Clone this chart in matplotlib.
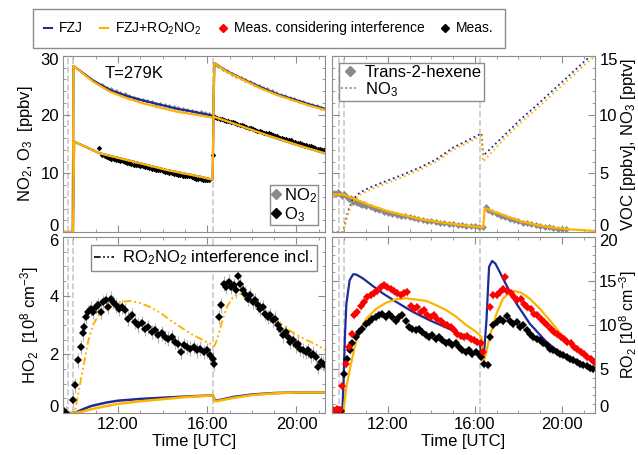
import matplotlib
matplotlib.use('Agg')
import matplotlib.pyplot as plt
from matplotlib.ticker import MultipleLocator, FuncFormatter
from matplotlib.lines import Line2D

plt.rcParams['font.family'] = ['Liberation Sans', 'DejaVu Sans']
plt.rcParams['mathtext.fontset'] = 'custom'
plt.rcParams['mathtext.rm'] = 'Liberation Sans'
plt.rcParams['mathtext.it'] = 'Liberation Sans'
plt.rcParams['mathtext.default'] = 'regular'
plt.rcParams['font.size'] = 12

BLUE = '#1c2c96'
ORANGE = '#ffb300'
FRAME = '#8c8c8c'
GREY = '#8a8a8a'

# injection / dilution times (hours UTC)
events = [9.75, 9.96, 16.25]

# ---- NO2 / O3 (ppbv) ----
no2_fzj_t = [9.5, 9.97, 10.0, 10.89, 11.64, 12.39, 13.14, 13.89, 14.64, 15.39, 16.14, 16.27,
             16.32, 16.88, 17.63, 18.38, 19.13, 19.88, 20.63, 21.38]
no2_fzj = [0, 0, 28.3, 25.8, 24.2, 23.2, 22.4, 21.7, 21.0, 20.5, 19.9, 19.8,
           28.8, 27.4, 26.0, 24.7, 23.5, 22.6, 21.7, 20.9]
no2_ro2 = [0, 0, 28.3, 25.6, 23.9, 22.8, 21.9, 21.2, 20.5, 20.05, 19.55, 19.5,
           28.8, 27.3, 25.9, 24.5, 23.35, 22.4, 21.5, 20.7]
o3_mod_t = [9.5, 9.98, 10.03, 11.19, 12.69, 14.19, 15.69, 16.17, 16.24,
            16.28, 17.18, 18.68, 20.18, 21.38]
o3_mod = [0, 0, 15.4, 13.4, 12.0, 10.57, 9.43, 8.98, 8.95,
          19.65, 18.5, 16.5, 14.66, 13.3]

no2_meas_t = [11.3, 11.5, 11.7, 11.9, 12.1, 12.3, 12.5, 12.7, 12.9, 13.1, 13.3, 13.5, 13.7, 13.9,
              14.1, 14.3, 14.5, 14.7, 14.9, 15.1, 15.3, 15.5, 15.7, 15.9, 16.1,
              16.35, 16.5, 16.7, 16.9, 17.1, 17.3, 17.5, 17.7, 17.9, 18.1, 18.3, 18.5, 18.7,
              18.9, 19.1, 19.3, 19.5, 19.7, 19.9, 20.1, 20.3, 20.5, 20.7, 20.9, 21.1, 21.3]
no2_meas = [25.0, 24.6, 24.3, 24.0, 23.7, 23.5, 23.2, 22.9, 22.7, 22.5, 22.3, 22.1, 21.9, 21.8,
            21.6, 21.4, 21.3, 21.1, 21.0, 20.8, 20.7, 20.5, 20.4, 20.2, 20.1,
            28.6, 28.3, 27.8, 27.4, 27.0, 26.6, 26.3, 25.9, 25.6, 25.2, 24.9, 24.6, 24.3,
            24.0, 23.7, 23.4, 23.1, 22.9, 22.6, 22.4, 22.1, 21.9, 21.6, 21.4, 21.2, 21.0]
o3_meas_t = [11.15, 11.3, 11.4, 11.5, 11.6, 11.7, 11.8, 11.9, 12.0, 12.1, 12.2, 12.3, 12.4, 12.5,
             12.6, 12.7, 12.8, 12.9, 13.0, 13.1, 13.2, 13.3, 13.4, 13.5, 13.6, 13.7, 13.8,
             13.9, 14.0, 14.1, 14.2, 14.3, 14.4, 14.5, 14.6, 14.7, 14.8, 14.9, 15.0, 15.1,
             15.2, 15.3, 15.4, 15.5, 15.6, 15.7, 15.8, 15.9, 16.0, 16.1,
             16.25, 16.35, 16.45, 16.55, 16.65, 16.75, 16.85, 16.95, 17.05, 17.15, 17.25, 17.35,
             17.45, 17.55, 17.65, 17.75, 17.85, 17.95, 18.05, 18.15, 18.25, 18.35, 18.45, 18.55,
             18.65, 18.75, 18.85, 18.95, 19.05, 19.15, 19.25, 19.35, 19.45, 19.55, 19.65, 19.75,
             19.85, 19.95, 20.05, 20.15, 20.25, 20.35, 20.45, 20.55, 20.65, 20.75, 20.85, 20.95,
             21.05, 21.15, 21.25]
o3_meas = [14.4, 13.1, 13.0, 12.8, 12.6, 12.5, 12.4, 12.3, 12.2, 12.1, 12.1, 12.0, 11.8, 11.8,
           11.6, 11.5, 11.5, 11.4, 11.3, 11.2, 11.1, 11.0, 10.9, 10.8, 10.7, 10.6, 10.6,
           10.5, 10.4, 10.3, 10.2, 10.1, 10.0, 9.9, 9.9, 9.8, 9.7, 9.6, 9.6, 9.5,
           9.5, 9.4, 9.2, 9.1, 9.1, 9.0, 8.9, 8.9, 8.8, 8.8,
           13.1, 19.6, 19.5, 19.3, 19.2, 19.1, 19.0, 18.9, 18.8, 18.7, 18.5, 18.4,
           18.3, 18.2, 18.0, 17.9, 17.8, 17.7, 17.5, 17.4, 17.3, 17.2, 17.0, 16.9,
           16.9, 16.8, 16.7, 16.6, 16.4, 16.3, 16.1, 16.0, 15.9, 15.8, 15.7, 15.6,
           15.4, 15.3, 15.2, 15.1, 15.0, 14.9, 14.8, 14.7, 14.6, 14.5, 14.3, 14.2,
           14.1, 14.0, 13.9]

# ---- trans-2-hexene (ppbv) and NO3 (pptv) ----
hex_mod_t = [9.43, 9.94, 10.4, 11.17, 11.93, 12.7, 13.47, 14.23, 15.0, 15.77, 16.38,
             16.45, 17.3, 18.07, 18.84, 19.6, 20.37, 21.55]
hex_mod = [3.2, 3.2, 2.87, 2.3, 1.82, 1.45, 1.11, 0.88, 0.68, 0.51, 0.4,
           2.02, 1.45, 0.94, 0.6, 0.37, 0.23, 0.09]
hex_meas_t = [9.5, 9.6, 9.7, 9.8, 9.9, 10.0, 10.1, 10.2, 10.3, 10.4, 10.5, 10.6, 10.7, 10.8,
              10.9, 11.0, 11.2, 11.4, 11.6, 11.8, 12.0, 12.2, 12.4, 12.6, 12.8, 13.0, 13.2,
              13.4, 13.6, 13.8, 14.0, 14.2, 14.4, 14.6, 14.8, 15.0, 15.2, 15.4, 15.6, 15.8,
              16.0, 16.2, 16.35,
              16.5, 16.6, 16.8, 17.0, 17.2, 17.4, 17.6, 17.8, 18.0, 18.2, 18.4, 18.6, 18.8,
              19.0, 19.2, 19.4, 19.6, 19.8, 20.0, 20.2]
hex_meas = [3.3, 3.2, 3.4, 3.2, 3.1, 3.2, 3.0, 2.8, 2.9, 2.6, 2.7, 2.5, 2.4, 2.3,
            2.35, 2.2, 2.1, 2.0, 1.9, 1.75, 1.65, 1.55, 1.45, 1.4, 1.35, 1.25, 1.2,
            1.1, 1.05, 0.95, 0.9, 0.85, 0.8, 0.75, 0.7, 0.65, 0.6, 0.6, 0.55, 0.5,
            0.5, 0.45, 0.4,
            2.1, 1.9, 1.7, 1.55, 1.4, 1.3, 1.15, 1.0, 0.9, 0.8, 0.75, 0.65, 0.6,
            0.5, 0.45, 0.4, 0.35, 0.3, 0.3, 0.25]
no3_t = [9.43, 9.94, 10.17, 10.4, 10.7, 11.17, 11.93, 12.7, 13.47, 14.23, 15.0, 15.77, 16.3,
         16.38, 17.3, 18.07, 18.84, 19.6, 20.37, 21.13, 21.55]
no3_fzj = [0, 0, 1.8, 2.8, 3.35, 3.8, 4.35, 4.9, 5.5, 6.2, 7.2, 7.9, 8.4,
           6.5, 8.15, 9.55, 10.8, 12.1, 13.4, 14.7, 15.3]
no3_ro2 = [0, 0, 1.6, 2.6, 3.15, 3.6, 4.15, 4.7, 5.3, 6.0, 7.0, 7.7, 8.2,
           6.0, 7.85, 9.27, 10.5, 11.8, 13.1, 14.4, 15.0]

# ---- HO2 (1e8 cm-3) ----
ho2_t = [9.53, 9.65, 9.96, 10.07, 10.22, 10.32, 10.41, 10.47, 10.56, 10.67, 10.77, 10.89, 11.01,
         11.12, 11.22, 11.34, 11.46, 11.57, 11.67, 11.79, 11.91, 12.03, 12.17, 12.32, 12.46,
         12.61, 12.76, 12.91, 13.06, 13.21, 13.36, 13.51, 13.66, 13.81, 13.96, 14.11, 14.26,
         14.41, 14.56, 14.71, 14.82, 14.94, 15.09, 15.24, 15.39, 15.54, 15.69, 15.84, 15.98,
         16.13, 16.28, 16.31, 16.51, 16.63, 16.73, 16.85, 16.96, 17.06, 17.18, 17.29, 17.38,
         17.48, 17.6, 17.71, 17.81, 17.93, 18.05, 18.16, 18.28, 18.38, 18.5, 18.61, 18.71,
         18.83, 18.95, 19.06, 19.16, 19.28, 19.4, 19.51, 19.63, 19.73, 19.85, 19.96, 20.08,
         20.18, 20.3, 20.41, 20.53, 20.63, 20.75, 20.86, 20.96, 21.08, 21.2, 21.3]
ho2_meas = [0.1, 0.0, 0.45, 0.94, 1.8, 2.25, 2.71, 2.93, 3.27, 3.44, 3.56, 3.44, 3.61,
            3.67, 3.44, 3.78, 3.84, 3.61, 3.9, 3.78, 3.67, 3.56, 3.61, 3.5, 3.22,
            3.33, 3.1, 2.99, 3.05, 2.87, 2.93, 2.76, 2.82, 2.65, 2.71, 2.59, 2.53,
            2.59, 2.42, 2.36, 2.08, 2.31, 2.25, 2.19, 2.25, 2.14, 2.19, 2.08, 2.14,
            1.97, 1.85, 1.68, 3.27, 3.67, 4.41, 4.3, 4.47, 4.3, 4.36, 4.18, 4.66,
            4.41, 4.18, 4.07, 3.9, 4.01, 3.78, 3.84, 3.67, 3.56, 3.61, 3.39, 3.27,
            3.33, 3.16, 3.22, 2.99, 2.87, 2.65, 2.76, 2.59, 2.42, 2.48, 2.31, 2.36,
            2.19, 2.14, 2.08, 2.14, 1.97, 2.02, 1.91, 1.57, 1.74, 1.68, 1.62]
ho2_err = 0.25
ho2_int_t = [9.5, 10.05, 10.25, 10.44, 10.67, 10.89, 11.19, 11.64, 12.09, 12.54, 12.99, 13.44,
             13.9, 14.35, 14.8, 15.24, 15.69, 16.14, 16.31, 16.43, 16.66, 16.88, 17.11, 17.33,
             17.56, 17.78, 18.23, 18.68, 19.13, 19.58, 20.03, 20.48, 20.93, 21.38]
ho2_int = [0, 0, 0.8, 1.57, 2.48, 3.02, 3.41, 3.67, 3.78, 3.82, 3.75, 3.61,
           3.41, 3.16, 2.93, 2.71, 2.53, 2.36, 2.27, 2.48, 3.1, 3.61, 3.9, 4.05,
           4.05, 3.98, 3.73, 3.44, 3.16, 2.87, 2.65, 2.48, 2.31, 2.12]
ho2_mod_t = [9.5, 10.05, 10.4, 10.8, 11.5, 12.0, 13.0, 14.0, 15.0, 16.25, 16.35, 16.6, 17.2,
             18.0, 19.0, 20.0, 21.38]
ho2_fzj = [0, 0, 0.12, 0.24, 0.36, 0.42, 0.48, 0.52, 0.56, 0.6, 0.42, 0.45, 0.55,
           0.63, 0.68, 0.7, 0.7]
ho2_ro2 = [0, 0, 0.05, 0.13, 0.24, 0.31, 0.4, 0.47, 0.54, 0.6, 0.4, 0.43, 0.52,
           0.61, 0.67, 0.7, 0.7]

# ---- RO2 (1e8 cm-3) ----
ro2_fzj_t = [9.43, 9.9, 9.96, 10.02, 10.09, 10.24, 10.4, 10.55, 10.86, 11.32, 11.78, 12.39,
             13.15, 13.92, 14.69, 15.45, 16.22, 16.3, 16.4, 16.53, 16.65, 16.79, 16.94, 17.14,
             17.45, 17.91, 18.52, 19.29, 20.06, 20.82, 21.55]
ro2_fzj = [0, 0, 3.5, 8.5, 12.4, 15.08, 15.76, 15.72, 15.27, 14.4, 13.56, 12.61,
           11.48, 10.53, 9.7, 8.83, 7.8, 6.93, 6.17, 10.53, 16.6, 17.27, 16.97, 16.02,
           14.5, 12.42, 10.15, 8.07, 6.55, 5.61, 4.9]
ro2_int_t = [9.43, 9.95, 10.09, 10.24, 10.47, 10.7, 11.01, 11.47, 11.93, 12.39, 12.85, 13.31,
             13.77, 14.23, 14.69, 15.15, 15.61, 16.07, 16.3, 16.38, 16.45, 16.68, 16.99, 17.29,
             17.6, 17.83, 18.14, 18.52, 18.98, 19.44, 20.06, 20.67, 21.28, 21.55]
ro2_int = [0, 0, 2.95, 4.85, 7.5, 9.39, 10.72, 11.86, 12.54, 12.92, 13.03, 12.88,
           12.73, 12.23, 11.67, 10.91, 9.96, 9.2, 8.64, 5.98, 6.17, 8.64, 11.29, 12.99,
           13.75, 13.86, 13.64, 12.99, 11.86, 10.53, 8.64, 7.31, 6.36, 5.8]
ro2_red_t = [9.48, 9.58, 9.68, 9.78, 9.9, 10.06, 10.21, 10.36, 10.44, 10.59, 10.75, 10.9, 11.05,
             11.21, 11.36, 11.51, 11.67, 11.82, 11.97, 12.13, 12.28, 12.43, 12.59, 12.74, 12.89,
             13.05, 13.2, 13.35, 13.51, 13.66, 13.81, 13.97, 14.12, 14.27, 14.43, 14.58, 14.73,
             14.89, 15.04, 15.19, 15.35, 15.5, 15.65, 15.81, 15.96, 16.11, 16.27, 16.39,
             16.7, 16.85, 17.0, 17.15, 17.31, 17.37, 17.49, 17.64, 17.8, 17.95, 18.1, 18.26,
             18.41, 18.56, 18.72, 18.87, 19.02, 19.18, 19.33, 19.48, 19.64, 19.79, 19.94, 20.1,
             20.25, 20.4, 20.55, 20.71, 20.86, 21.01, 21.17, 21.32, 21.47]
ro2_red = [0.3, 0.2, 0.4, 0.3, 3.1, 5.6, 7.5, 9.0, 11.1, 11.5, 12.2, 12.6, 13.2,
           13.4, 13.6, 13.9, 14.3, 14.5, 14.3, 14.1, 13.9, 13.6, 13.4, 13.6, 13.75,
           12.2, 11.86, 12.0, 11.48, 11.67, 11.1, 10.9, 11.1, 10.7, 10.5, 10.15, 9.96,
           9.8, 9.4, 9.0, 8.8, 8.64, 8.8, 8.4, 8.26, 8.07, 7.9, 6.9,
           12.0, 13.4, 13.4, 13.75, 14.1, 15.45, 13.9, 13.6, 13.2, 12.8, 13.0, 12.4,
           12.0, 11.86, 11.3, 11.1, 10.7, 10.34, 9.96, 9.58, 9.2, 9.0, 8.64, 8.45,
           8.07, 7.9, 7.5, 7.3, 6.93, 6.74, 6.36, 6.17, 5.8]
ro2_blk_t = [9.5, 9.62, 9.74, 9.86, 9.98, 10.13, 10.25, 10.36, 10.52, 10.67, 10.82, 10.98, 11.13,
             11.28, 11.44, 11.59, 11.74, 11.9, 12.05, 12.2, 12.36, 12.51, 12.66, 12.82, 12.97,
             13.12, 13.28, 13.43, 13.58, 13.74, 13.89, 14.04, 14.2, 14.35, 14.5, 14.66, 14.81,
             14.96, 15.12, 15.27, 15.42, 15.58, 15.73, 15.88, 16.04, 16.19, 16.3, 16.42, 16.58,
             16.7, 16.85, 17.0, 17.15, 17.31, 17.46, 17.61, 17.77, 17.92, 18.07, 18.23, 18.38,
             18.54, 18.69, 18.84, 19.0, 19.15, 19.3, 19.46, 19.61, 19.76, 19.92, 20.07, 20.22,
             20.38, 20.53, 20.68, 20.84, 20.99, 21.14, 21.3, 21.45]
ro2_blk = [0.2, 0.1, 0.3, 0.2, 4.47, 6.17, 7.1, 7.9, 8.64, 9.2, 9.58, 10.15, 10.34,
           10.7, 10.9, 11.1, 11.2, 10.9, 11.3, 10.9, 10.5, 10.9, 11.1, 10.5, 9.77,
           9.58, 9.39, 9.58, 9.2, 8.83, 8.64, 8.83, 8.45, 8.64, 8.26, 7.9, 8.07,
           7.7, 7.9, 7.5, 7.1, 6.93, 7.1, 6.74, 6.93, 6.74, 6.36, 5.6, 5.5,
           8.64, 9.96, 10.34, 10.7, 10.5, 10.98, 10.5, 10.15, 10.34, 9.77, 9.96, 9.39,
           9.0, 8.64, 8.45, 8.26, 7.9, 7.7, 7.3, 7.1, 6.93, 6.74, 6.55, 6.36,
           6.17, 5.98, 5.8, 5.6, 5.5, 5.34, 5.15, 5.04]
ro2_err = 0.45

fig = plt.figure(figsize=(6.38, 4.55), dpi=100)
ax1 = fig.add_axes([0.0987, 0.490, 0.4107, 0.387])
ax2 = fig.add_axes([0.5204, 0.490, 0.4122, 0.387])
ax3 = fig.add_axes([0.0987, 0.0923, 0.4107, 0.387])
ax4 = fig.add_axes([0.5204, 0.0923, 0.4122, 0.387])


def style(ax, xlim, ylim, ymaj, ymin, right=False, xlab=False):
    lo, hi = ylim
    ax.set_xlim(xlim)
    ax.set_ylim(ylim)
    ax.xaxis.set_major_locator(MultipleLocator(4))
    ax.xaxis.set_minor_locator(MultipleLocator(1))
    ax.yaxis.set_major_locator(MultipleLocator(ymaj))
    ax.yaxis.set_minor_locator(MultipleLocator(ymin))
    ax.xaxis.set_major_formatter(FuncFormatter(lambda v, p: '%02d:00' % int(round(v))))
    # end labels are drawn separately, nudged inwards
    ax.yaxis.set_major_formatter(FuncFormatter(
        lambda v, p: '' if abs(v - lo) < 1e-9 or abs(v - hi) < 1e-9 else '%g' % v))
    ax.tick_params(which='both', direction='in', top=True, right=True, left=True,
                   color=FRAME, labelsize=12, pad=3)
    ax.tick_params(which='major', length=5)
    ax.tick_params(which='minor', length=2.5)
    ax.tick_params(axis='x', labelbottom=xlab)
    xs, dx, ha = 0, -3.2, 'right'
    if right:
        ax.yaxis.set_label_position('right')
        ax.tick_params(axis='y', labelleft=False, labelright=True)
        xs, dx, ha = 1, 3.2, 'left'
    for val, dy in ((lo, 3.8), (hi, -3.0)):
        ax.annotate('%g' % val, xy=(xs, val), xycoords=('axes fraction', 'data'),
                    xytext=(dx, dy), textcoords='offset points', ha=ha, va='center',
                    fontsize=12, annotation_clip=False)
    for s in ax.spines.values():
        s.set_color(FRAME)
    for e in events:
        ax.axvline(e, color='#c8c8c8', ls='--', lw=1.2, zorder=0)
    if xlab:
        ax.set_xlabel('Time [UTC]', fontsize=12, labelpad=1)


# NO2 / O3
style(ax1, (9.53, 21.28), (0, 30), 10, 2)
ax1.plot(no2_meas_t, no2_meas, 'D', color=GREY, ms=2.5, mew=0)
ax1.plot(no2_fzj_t, no2_fzj, color=BLUE, lw=1.6)
ax1.plot(no2_fzj_t, no2_ro2, color=ORANGE, lw=1.6)
ax1.plot(o3_meas_t, o3_meas, 'D', color='k', ms=2.8, mew=0)
ax1.plot(o3_mod_t, o3_mod, color=BLUE, lw=1.6)
ax1.plot(o3_mod_t, o3_mod, color=ORANGE, lw=1.6)
ax1.text(0.16, 0.9, 'T=279K', transform=ax1.transAxes, fontsize=12, va='center')
ax1.set_ylabel('NO$_2$, O$_3$  [ppbv]', fontsize=12, labelpad=4)
h_no2 = Line2D([], [], ls='none', marker='D', color=GREY, ms=5)
h_o3 = Line2D([], [], ls='none', marker='D', color='k', ms=5)
lg = ax1.legend([h_no2, h_o3], ['NO$_2$', 'O$_3$'], loc='lower right', fontsize=12,
                handlelength=0.5, handletextpad=0.2, borderpad=0.1, labelspacing=0.0,
                borderaxespad=0.4, fancybox=False, edgecolor=FRAME, framealpha=1)
lg.get_frame().set_linewidth(1)

# VOC / NO3
style(ax2, (9.43, 21.52), (0, 15), 5, 1, right=True)
ax2.plot(hex_meas_t, hex_meas, 'D', color=GREY, ms=3.5, mew=0)
ax2.plot(hex_mod_t, hex_mod, color=ORANGE, lw=1.6)
ax2.plot(no3_t, no3_fzj, ':', color=BLUE, lw=1.3)
ax2.plot(no3_t, no3_ro2, ':', color=ORANGE, lw=1.3)
ax2.set_ylabel('VOC [ppbv], NO$_3$ [pptv]', fontsize=12, labelpad=1)
h_hex = Line2D([], [], ls='none', marker='D', color=GREY, ms=5)
h_no3 = Line2D([], [], ls=':', color='#707070', lw=1.2)
lg = ax2.legend([h_hex, h_no3], ['Trans-2-hexene', 'NO$_3$'], loc='upper left', fontsize=12,
                handlelength=1.0, handletextpad=0.4, borderpad=0.15, labelspacing=0.0,
                borderaxespad=0.4, fancybox=False, edgecolor=FRAME, framealpha=1)
lg.get_frame().set_linewidth(1)

# HO2
style(ax3, (9.53, 21.28), (0, 6), 2, 0.5, xlab=True)
ax3.errorbar(ho2_t, ho2_meas, yerr=ho2_err, fmt='D', color='k', ms=4.5, mew=0,
             ecolor='#b4b4b4', elinewidth=0.8, capsize=0)
ax3.plot(ho2_int_t, ho2_int, color=ORANGE, lw=1.4, dashes=(4, 1.5, 1, 1.5, 1, 1.5))
ax3.plot(ho2_mod_t, ho2_fzj, color=BLUE, lw=1.8)
ax3.plot(ho2_mod_t, ho2_ro2, color=ORANGE, lw=1.8)
ax3.set_ylabel('HO$_2$  [10$^8$ cm$^{-3}$]', fontsize=12, labelpad=6)
h_int = Line2D([], [], color='k', lw=1.2, dashes=(4, 1.5, 1, 1.5, 1, 1.5))
lg = ax3.legend([h_int], ['RO$_2$NO$_2$ interference incl.'], loc='upper right', fontsize=12,
                handlelength=1.2, handletextpad=0.5, borderpad=0.2,
                borderaxespad=0.5, fancybox=False, edgecolor=FRAME, framealpha=1)
lg.get_frame().set_linewidth(1)

# RO2
style(ax4, (9.43, 21.52), (0, 20), 5, 1, right=True, xlab=True)
ax4.errorbar(ro2_blk_t, ro2_blk, yerr=ro2_err, fmt='D', color='k', ms=3.8, mew=0,
             ecolor='#b4b4b4', elinewidth=0.8, capsize=0)
ax4.errorbar(ro2_red_t, ro2_red, yerr=ro2_err, fmt='D', color='#ff0000', ms=3.8, mew=0,
             ecolor='#b4b4b4', elinewidth=0.8, capsize=0)
ax4.plot(ro2_fzj_t, ro2_fzj, color=BLUE, lw=1.6)
ax4.plot(ro2_int_t, ro2_int, color=ORANGE, lw=1.6)
ax4.set_ylabel('RO$_2$ [10$^8$ cm$^{-3}$]', fontsize=11.5, labelpad=0)

# top legend
handles = [Line2D([], [], color=BLUE, lw=1.5),
           Line2D([], [], color=ORANGE, lw=1.5),
           Line2D([], [], ls='none', marker='D', color='#ff0000', ms=4.5),
           Line2D([], [], ls='none', marker='D', color='k', ms=4.5)]
labels = ['FZJ', 'FZJ+RO$_2$NO$_2$', 'Meas. considering interference', 'Meas.']
lg = fig.legend(handles, labels, loc='center', bbox_to_anchor=(0.4216, 0.937), ncol=4,
                fontsize=10, handlelength=0.6, handletextpad=0.5, columnspacing=1.2,
                borderpad=0.8, fancybox=False, edgecolor=FRAME, framealpha=1)
lg.get_frame().set_linewidth(1)

fig.savefig('out.png', dpi=100)
